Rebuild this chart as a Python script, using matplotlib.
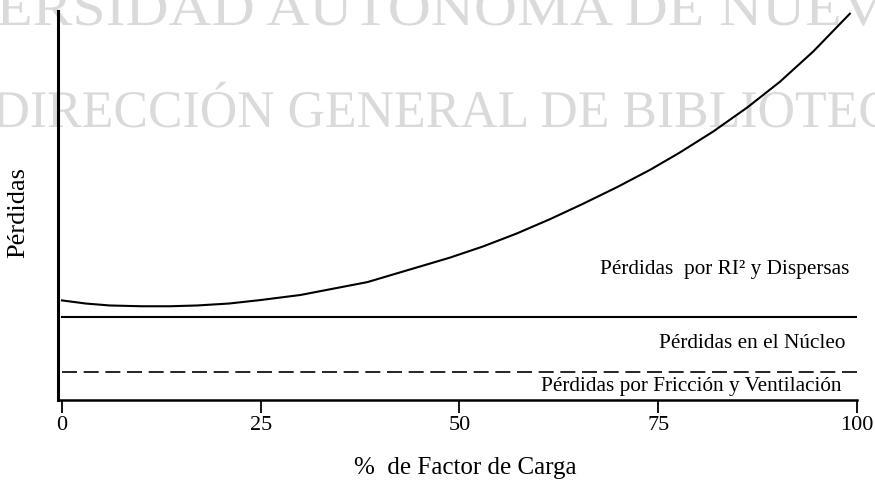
import matplotlib
matplotlib.use("Agg")
import matplotlib.pyplot as plt
from matplotlib.textpath import TextPath
from matplotlib.patches import PathPatch
from matplotlib.font_manager import FontProperties
from matplotlib.transforms import Affine2D

# load factor (%) and total losses (arbitrary units)
carga = [0, 3, 6, 10, 13.6, 17, 21, 25, 30, 38.4, 48.8, 53, 57.2, 61.4, 65.5,
         69.8, 74, 77.7, 81.9, 86.2, 90.3, 94.5, 99.1]
perdidas_total = [25.6, 24.8, 24.3, 24.1, 24.1, 24.3, 24.8, 25.7, 27.0, 30.3, 36.6,
                  39.5, 42.8, 46.5, 50.4, 54.7, 59.2, 63.6, 69.0, 75.2, 81.8, 89.6, 99.3]
nivel_nucleo = 21.4
nivel_friccion = 7.3
xticks = [0, 25, 50, 75, 100]

W, H = 875, 485
serif = "Liberation Serif"

fig = plt.figure(figsize=(W / 100, H / 100), dpi=100)
ax = fig.add_axes([58 / W, 1 - 401 / H, (857 - 58) / W, (401 - 12) / H])
ax.patch.set_visible(False)


def marca_agua(texto, x0, x1, base, cap=35):
    # light grey library stamp, narrow serif, sized in pixels
    tp = TextPath((0, 0), texto, size=1, prop=FontProperties(family=serif))
    ext = tp.get_extents()
    sy = cap / 0.662
    sx = (x1 - x0) / ext.width
    tr = Affine2D().translate(-ext.x0, 0).scale(sx / W, sy / H).translate(x0 / W, 1 - base / H)
    p = PathPatch(tp, transform=tr + fig.transFigure, facecolor="#dadada",
                  edgecolor="none", zorder=-5)
    fig.add_artist(p)


marca_agua("ERSIDAD AUTONOMA DE NUEV", -2, 884, 26)
marca_agua("DIRECCIÓN GENERAL DE BIBLIOTEC", -6, 890, 128)

ax.plot(carga, perdidas_total, color="black", lw=1.5, zorder=3,
        solid_joinstyle="round")
ax.plot([0, 100], [nivel_nucleo, nivel_nucleo], color="black", lw=1.5)
ax.plot([0, 100], [nivel_friccion, nivel_friccion], color="black", lw=1.2,
        dashes=(9, 4))

ax.set_xlim(-0.5, 100)
ax.set_ylim(0, 100)
for s in ["top", "right"]:
    ax.spines[s].set_visible(False)
ax.spines["left"].set_linewidth(2.2)
ax.spines["bottom"].set_linewidth(1.8)
ax.set_yticks([])
ax.set_xticks(xticks)
ax.set_xticklabels([str(t) for t in xticks], family=serif, fontsize=16)
ax.tick_params(axis="x", direction="out", length=9, width=1.3, pad=2)

ax.text(99, 33.7, "Pérdidas  por RI² y Dispersas", family=serif, fontsize=15.3,
        ha="right", va="center")
ax.text(98.6, 14.8, "Pérdidas en el Núcleo", family=serif, fontsize=15.3,
        ha="right", va="center")
ax.text(98, 3.7, "Pérdidas por Fricción y Ventilación", family=serif, fontsize=15.3,
        ha="right", va="center")

fig.text(465 / W, 1 - 468 / H, "%  de Factor de Carga", family=serif, fontsize=18,
         ha="center", va="center")
fig.text(18 / W, 1 - 213 / H, "Pérdidas", family=serif, fontsize=19,
         rotation=90, ha="center", va="center")

fig.savefig("out.png", dpi=100)
